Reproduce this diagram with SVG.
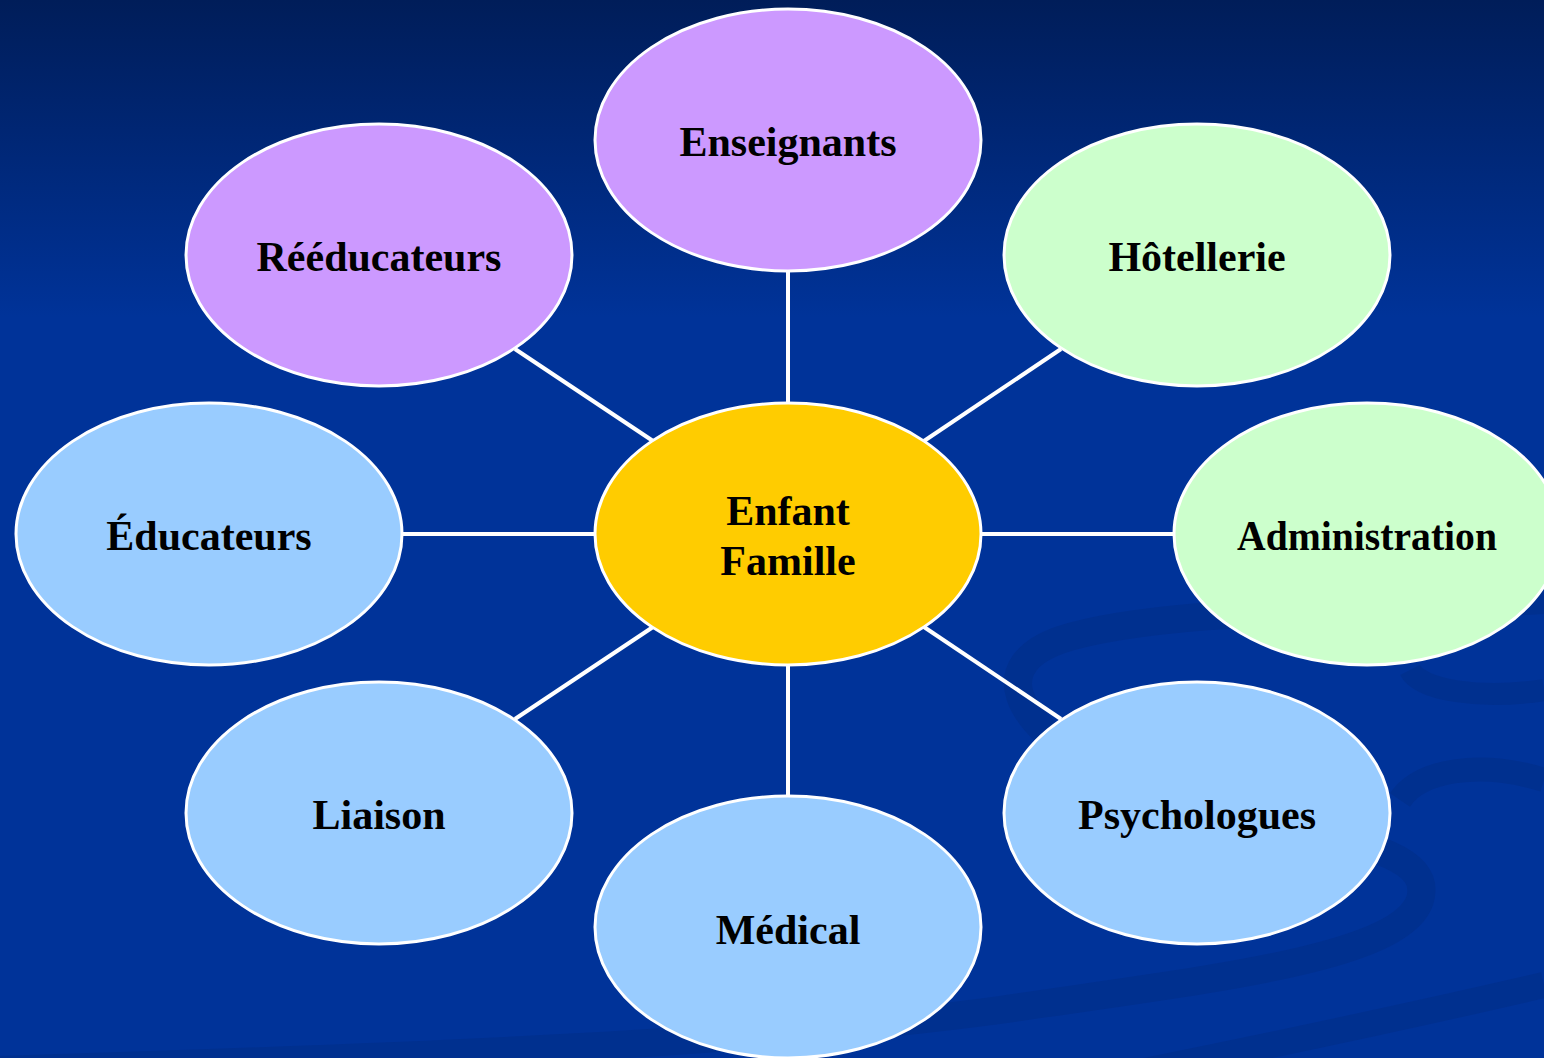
<svg xmlns="http://www.w3.org/2000/svg" width="1544" height="1058" viewBox="0 0 1544 1058">
<defs>
<linearGradient id="bg" x1="0" y1="0" x2="0" y2="1">
<stop offset="0" stop-color="#001d59"/>
<stop offset="0.3" stop-color="#003399"/>
<stop offset="1" stop-color="#003399"/>
</linearGradient>
</defs>
<style>
.node ellipse{stroke:#ffffff;stroke-width:3}
.purple{fill:#cc99ff}
.green{fill:#ccffcc}
.blue{fill:#99ccff}
.gold{fill:#ffcc00}
.lbl{font-family:"Liberation Serif","Times New Roman",serif;font-weight:bold;font-size:42px;fill:#000000;text-anchor:middle}
.conn line{stroke:#ffffff;stroke-width:4}
.swirl{fill:none;stroke:#00308c;stroke-opacity:0.8}
</style>
<rect x="0" y="0" width="1544" height="1058" fill="url(#bg)"/>
<g id="decor">
<path class="swirl" stroke-width="28" d="M1544,600 C1350,610 1150,610 1060,640 C990,665 1010,720 1100,770 C1250,840 1440,830 1420,900 C1400,960 1200,980 1000,1010 C700,1050 300,1060 0,1070"/>
<path class="swirl" stroke-width="22" d="M1544,690 C1480,700 1420,690 1410,670"/>
<path class="swirl" stroke-width="24" d="M1544,780 C1480,760 1420,770 1400,800"/>
<path class="swirl" stroke-width="26" d="M1544,985 C1350,1030 1200,1060 1100,1080"/>
</g>
<g id="connectors" class="conn">
<line x1="788" y1="272" x2="788" y2="404"/>
<line x1="788" y1="665" x2="788" y2="797"/>
<line x1="402" y1="534" x2="596" y2="534"/>
<line x1="981" y1="534" x2="1175" y2="534"/>
<line x1="515" y1="349" x2="653" y2="441"/>
<line x1="924" y1="441" x2="1061" y2="349"/>
<line x1="653" y1="627" x2="515" y2="719"/>
<line x1="924" y1="627" x2="1061" y2="719"/>
</g>
<g id="center" class="node"><ellipse class="gold" cx="788" cy="534" rx="193" ry="131"/><text class="lbl" x="788" y="525">Enfant</text><text class="lbl" x="788" y="575">Famille</text></g>
<g id="enseignants" class="node"><ellipse class="purple" cx="788" cy="140" rx="193" ry="131"/><text class="lbl" x="788" y="156">Enseignants</text></g>
<g id="reeducateurs" class="node"><ellipse class="purple" cx="379" cy="255" rx="193" ry="131"/><text class="lbl" x="379" y="271">Rééducateurs</text></g>
<g id="hotellerie" class="node"><ellipse class="green" cx="1197" cy="255" rx="193" ry="131"/><text class="lbl" x="1197" y="271">Hôtellerie</text></g>
<g id="educateurs" class="node"><ellipse class="blue" cx="209" cy="534" rx="193" ry="131"/><text class="lbl" x="209" y="550">Éducateurs</text></g>
<g id="administration" class="node"><ellipse class="green" cx="1367" cy="534" rx="193" ry="131"/><text class="lbl" x="1367" y="550" textLength="260" lengthAdjust="spacingAndGlyphs">Administration</text></g>
<g id="liaison" class="node"><ellipse class="blue" cx="379" cy="813" rx="193" ry="131"/><text class="lbl" x="379" y="829">Liaison</text></g>
<g id="medical" class="node"><ellipse class="blue" cx="788" cy="927" rx="193" ry="131"/><text class="lbl" x="788" y="944">Médical</text></g>
<g id="psychologues" class="node"><ellipse class="blue" cx="1197" cy="813" rx="193" ry="131"/><text class="lbl" x="1197" y="829">Psychologues</text></g>
</svg>
